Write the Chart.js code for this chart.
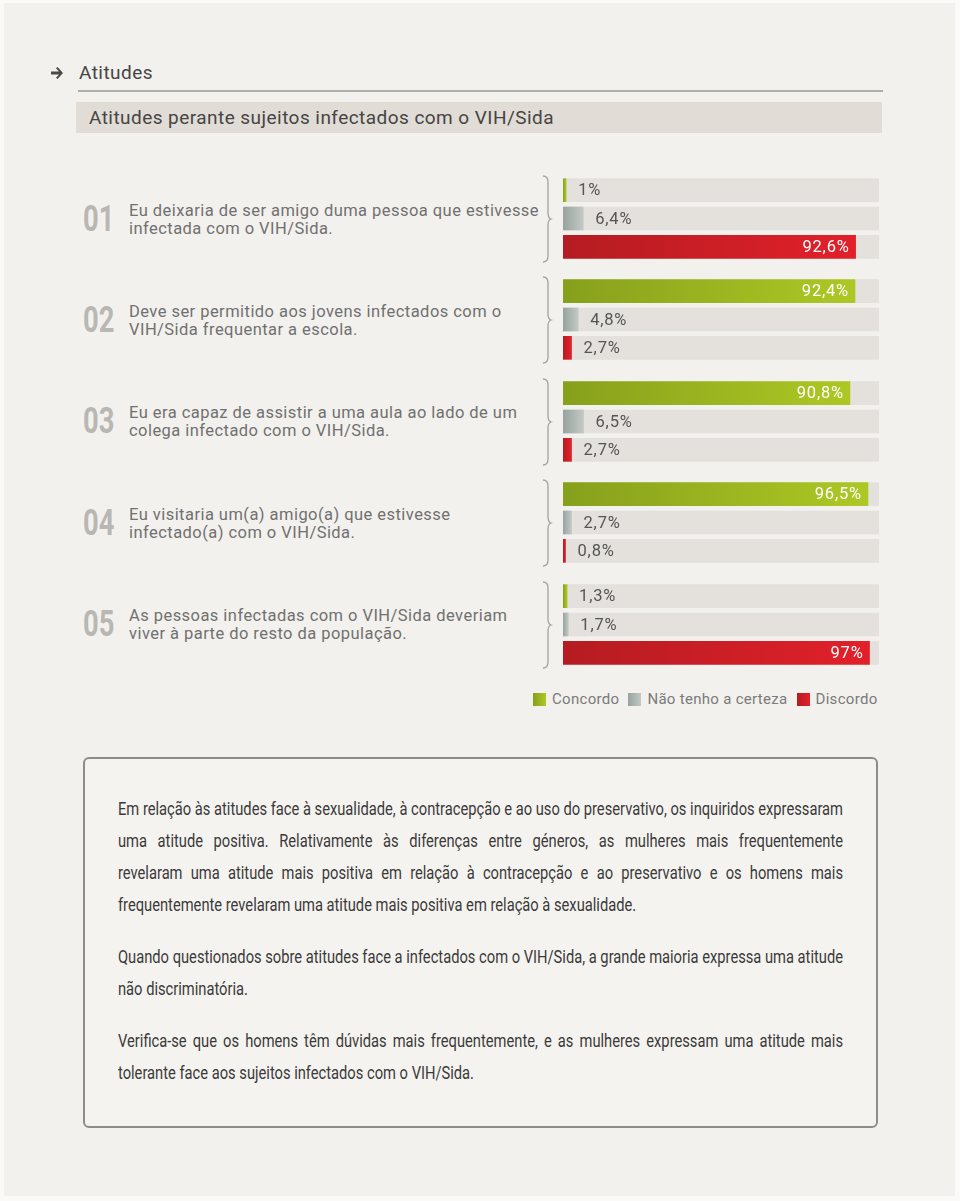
<!DOCTYPE html>
<html lang="pt">
  <head>
    <meta charset="UTF-8" />
    <title>Atitudes perante sujeitos infectados com o VIH/Sida</title>
    <style>
      html,
      body {
        margin: 0;
        padding: 0;
        width: 960px;
        height: 1201px;
        overflow: hidden;
        background: #fbfaf8;
        font-family: Roboto, "Open Sans", sans-serif;
      }

      .panel {
        position: absolute;
        left: 4px;
        top: 3px;
        width: 951px;
        height: 1193px;
        background: #f3f1ed;
      }

      .abs {
        position: absolute;
      }

      .arrow {
        left: 51px;
        top: 66px;
      }

      .section {
        left: 79px;
        top: 61px;
        font-size: 19px;
        letter-spacing: 0.45px;
        color: #454545;
      }

      .rule {
        left: 78px;
        top: 90px;
        width: 805px;
        height: 0;
        border-top: 2px solid #b0aeab;
      }

      .band {
        left: 76px;
        top: 102px;
        width: 806px;
        height: 31px;
        background: #e1dcd5;
        color: #454545;
        font-size: 19px;
        letter-spacing: 0.45px;
        line-height: 31px;
        padding-left: 13px;
        box-sizing: border-box;
      }

      .num {
        left: 83px;
        width: 44px;
        font-family: Roboto, sans-serif;
        font-weight: 700;
        font-size: 36px;
        line-height: 36px;
        color: #b9b7b4;
        transform: scaleX(0.76);
        transform-origin: left center;
      }

      .question {
        left: 129px;
        font-size: 16.5px;
        line-height: 18px;
        letter-spacing: 0.45px;
        color: #707070;
        white-space: nowrap;
      }

      .brace {
        left: 540px;
      }

      .chart {
        left: 563px;
      }

      .legend {
        left: 533px;
        top: 690px;
        font-size: 15px;
        color: #7a7a7a;
        display: flex;
        align-items: center;
        white-space: nowrap;
        letter-spacing: 0.3px;
      }

      .legend .sw {
        display: inline-block;
        width: 13px;
        height: 13px;
        margin-right: 6px;
      }

      .legend .item {
        display: flex;
        align-items: center;
        margin-right: 9px;
      }

      .note {
        left: 83px;
        top: 757px;
        width: 795px;
        height: 371px;
        box-sizing: border-box;
        border: 2px solid #8e8c89;
        border-radius: 6px;
        background: #f5f3ef;
        padding: 34px 33px 0 33px;
      }

      #noteText {
        font-family: Roboto, sans-serif;
        font-size: 18.5px;
        line-height: 32px;
        color: #3a3a3a;
        transform-origin: left top;
        width: 725px;
      }

      .ln {
        text-align: justify;
        text-align-last: justify;
        white-space: nowrap;
      }

      .ln.last,
      .measuring .ln {
        text-align: left;
        text-align-last: left;
      }

      .gap {
        height: 20px;
      }
    </style>
  </head>
  <body>
    <div class="panel"></div>
    <svg class="abs arrow" width="14" height="14" viewBox="0 0 14 14">
      <path d="M0,5.6 L8,5.6 L5,2.2 L6.6,1 L12,7 L6.6,13 L5,11.8 L8,8.4 L0,8.4 Z" fill="#4a4a4a" />
    </svg>
    <div class="abs section">Atitudes</div>
    <div class="abs rule"></div>
    <div class="abs band">Atitudes perante sujeitos infectados com o VIH/Sida</div>

    <div id="groups"></div>

    <div class="abs legend" id="legend"></div>

    <div class="abs note">
      <div id="noteText">
        <div class="ln">Em relação às atitudes face à sexualidade, à contracepção e ao uso do preservativo, os inquiridos expressaram</div>
        <div class="ln">uma atitude positiva. Relativamente às diferenças entre géneros, as mulheres mais frequentemente</div>
        <div class="ln">revelaram uma atitude mais positiva em relação à contracepção e ao preservativo e os homens mais</div>
        <div class="ln last">frequentemente revelaram uma atitude mais positiva em relação à sexualidade.</div>
        <div class="gap"></div>
        <div class="ln">Quando questionados sobre atitudes face a infectados com o VIH/Sida, a grande maioria expressa uma atitude</div>
        <div class="ln last">não discriminatória.</div>
        <div class="gap"></div>
        <div class="ln">Verifica-se que os homens têm dúvidas mais frequentemente, e as mulheres expressam uma atitude mais</div>
        <div class="ln last">tolerante face aos sujeitos infectados com o VIH/Sida.</div>
      </div>
    </div>

    <script src="https://cdn.jsdelivr.net/npm/chart.js@4.4.0/dist/chart.umd.min.js"></script>
    <script>
      // answer categories (one bar per category in every question)
      const SERIES = ["Concordo", "Não tenho a certeza", "Discordo"];

      const QUESTION_NUMBERS = ["01", "02", "03", "04", "05"];
      const QUESTIONS = [
        ["Eu deixaria de ser amigo duma pessoa que estivesse", "infectada com o VIH/Sida."],
        ["Deve ser permitido aos jovens infectados com o", "VIH/Sida frequentar a escola."],
        ["Eu era capaz de assistir a uma aula ao lado de um", "colega infectado com o VIH/Sida."],
        ["Eu visitaria um(a) amigo(a) que estivesse", "infectado(a) com o VIH/Sida."],
        ["As pessoas infectadas com o VIH/Sida deveriam", "viver à parte do resto da população."],
      ];

      // percentages per question
      const CONCORDO = [1, 92.4, 90.8, 96.5, 1.3];
      const NAO_TENHO = [6.4, 4.8, 6.5, 2.7, 1.7];
      const DISCORDO = [92.6, 2.7, 2.7, 0.8, 97];
      const SCALE_MAX = 100;

      // [left, right] of the gradient of each category
      const COLORS = [
        ["#87a01c", "#adc824"],
        ["#96a39e", "#c3c9c5"],
        ["#b41c21", "#e2202a"],
      ];
      const TRACK = "#e4e1dc";

      const GROUP_TOP = 176;
      const GROUP_STEP = 101.4;
      const CHART_W = 316;
      const CHART_H = 85;

      function fmt(v) {
        return String(v).replace(".", ",") + "%";
      }

      const barLabels = {
        id: "barLabels",
        afterDatasetsDraw(chart) {
          const ctx = chart.ctx;
          const meta = chart.getDatasetMeta(0);
          const data = chart.data.datasets[0].data;
          ctx.save();
          ctx.font = "16.5px Roboto, sans-serif";
          ctx.letterSpacing = "0.8px";
          ctx.textBaseline = "middle";
          meta.data.forEach((bar, i) => {
            const v = data[i];
            if (v >= 50) {
              ctx.fillStyle = "#ffffff";
              ctx.textAlign = "right";
              ctx.fillText(fmt(v), bar.x - 6, bar.y + 1);
            } else {
              ctx.fillStyle = "#555555";
              ctx.textAlign = "left";
              ctx.fillText(fmt(v), bar.x + 12, bar.y + 1);
            }
          });
          ctx.restore();
        },
      };

      function barColor(c) {
        const idx = c.dataIndex;
        if (c.type !== "data") return COLORS[idx][1];
        const chart = c.chart;
        const xs = chart.scales.x;
        if (!chart.chartArea || !xs) return COLORS[idx][1];
        const v = c.dataset.data[idx];
        const x0 = xs.getPixelForValue(0);
        const x1 = Math.max(xs.getPixelForValue(v), x0 + 1);
        const g = chart.ctx.createLinearGradient(x0, 0, x1, 0);
        g.addColorStop(0, COLORS[idx][0]);
        g.addColorStop(1, COLORS[idx][1]);
        return g;
      }

      const groups = document.getElementById("groups");

      QUESTIONS.forEach((q, i) => {
        const top = GROUP_TOP + i * GROUP_STEP;
        const mid = top + CHART_H / 2;

        const num = document.createElement("div");
        num.className = "abs num";
        num.style.top = mid - 18 + "px";
        num.textContent = QUESTION_NUMBERS[i];
        groups.appendChild(num);

        const text = document.createElement("div");
        text.className = "abs question";
        text.style.top = mid - 17 + "px";
        text.innerHTML = q[0] + "<br>" + q[1];
        groups.appendChild(text);

        const brace = document.createElementNS("http://www.w3.org/2000/svg", "svg");
        brace.setAttribute("class", "abs brace");
        brace.setAttribute("width", "14");
        brace.setAttribute("height", "90");
        brace.style.top = top - 2 + "px";
        brace.innerHTML =
          '<path d="M3,2 Q8,2 8,8 L8,39 Q8,44 11,45 Q8,46 8,51 L8,82 Q8,88 3,88" fill="none" stroke="#a4a29f" stroke-width="1.3"/>';
        groups.appendChild(brace);

        const canvas = document.createElement("canvas");
        canvas.className = "abs chart";
        canvas.width = CHART_W;
        canvas.height = CHART_H;
        canvas.style.top = top + "px";
        groups.appendChild(canvas);

        new Chart(canvas, {
          type: "bar",
          data: {
            labels: SERIES,
            datasets: [
              {
                data: [CONCORDO[i], NAO_TENHO[i], DISCORDO[i]],
                backgroundColor: barColor,
                barThickness: 23,
                grouped: false,
                borderWidth: 0,
                order: 1,
              },
              {
                data: SERIES.map(() => SCALE_MAX),
                backgroundColor: TRACK,
                barThickness: 23,
                grouped: false,
                borderWidth: 0,
                order: 2,
              },
            ],
          },
          options: {
            indexAxis: "y",
            responsive: false,
            animation: false,
            devicePixelRatio: 1,
            layout: { padding: 0 },
            scales: {
              x: { display: false, min: 0, max: SCALE_MAX },
              y: { display: false },
            },
            plugins: {
              legend: { display: false },
              tooltip: { enabled: false },
            },
          },
          plugins: [barLabels],
        });
      });

      const legend = document.getElementById("legend");
      SERIES.forEach((name, i) => {
        const item = document.createElement("span");
        item.className = "item";
        item.innerHTML =
          '<span class="sw" style="background: linear-gradient(90deg,' +
          COLORS[i][0] + "," + COLORS[i][1] + ')"></span>' + name;
        legend.appendChild(item);
      });

      // squeeze the note text horizontally, like the condensed face of the original
      function fitNote() {
        const box = document.getElementById("noteText");
        const target = 725;
        box.style.transform = "none";
        box.style.width = "3000px";
        box.classList.add("measuring");
        let widest = 0;
        box.querySelectorAll(".ln").forEach((ln) => {
          const s = document.createElement("span");
          s.textContent = ln.textContent;
          ln.textContent = "";
          ln.appendChild(s);
          widest = Math.max(widest, s.getBoundingClientRect().width);
          ln.textContent = s.textContent;
        });
        box.classList.remove("measuring");
        const k = target / widest;
        box.style.width = target / k + "px";
        box.style.transform = "scaleX(" + k + ")";
      }
      fitNote();
      if (document.fonts) document.fonts.ready.then(fitNote);
    </script>
  </body>
</html>
